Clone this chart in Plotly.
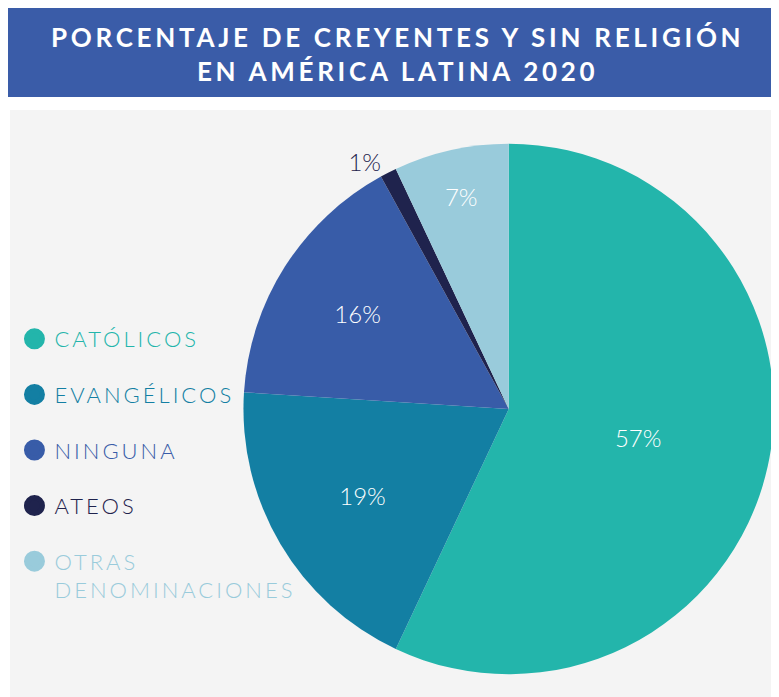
import plotly.graph_objects as go

categories = ["CATÓLICOS", "EVANGÉLICOS", "NINGUNA", "ATEOS", "OTRAS DENOMINACIONES"]
legend_labels = ["CATÓLICOS", "EVANGÉLICOS", "NINGUNA", "ATEOS", "OTRAS<br>DENOMINACIONES"]
values = [57, 19, 16, 1, 7]
colors = ["#23b5ab", "#137fa3", "#385ca8", "#1f234d", "#99cbdb"]
text_positions = ["inside", "inside", "inside", "outside", "inside"]
text_colors = ["white", "white", "white", "#1f234d", "white"]

title_lines = ["PORCENTAJE DE CREYENTES Y SIN RELIGIÓN", "EN AMÉRICA LATINA 2020"]

# page body has an 8px margin; figure fills the rest of the 779x697 window
W, H = 771, 689
FONT = "Lato"

fig = go.Figure()

fig.add_trace(go.Pie(
    labels=categories,
    values=values,
    marker=dict(colors=colors, line=dict(width=0)),
    sort=False,
    direction="clockwise",
    rotation=0,
    texttemplate="%{value}%",
    textposition=text_positions,
    insidetextorientation="horizontal",
    textfont=dict(family=FONT, size=24, color=text_colors, weight=300),
    showlegend=False,
    hoverinfo="label+percent",
    domain=dict(x=[237 / W, 1.0], y=[21 / H, 555 / H]),
))

for i, (lab, col) in enumerate(zip(legend_labels, colors)):
    fig.add_trace(go.Scatter(
        x=[None], y=[None], mode="markers",
        marker=dict(size=16, color=col, line=dict(color=col, width=5), symbol="circle"),
        name=f'<span style="color:{col};letter-spacing:3px">{lab}</span>',
        legendgroup=f"g{i}",
        showlegend=True,
    ))

title_html = "<br>".join(
    f'<span style="letter-spacing:3.7px">{t}</span>' for t in title_lines
)

fig.update_layout(
    width=W, height=H,
    margin=dict(l=0, r=0, t=0, b=0),
    paper_bgcolor="white",
    plot_bgcolor="rgba(0,0,0,0)",
    xaxis=dict(visible=False, domain=[0, 0.01]),
    yaxis=dict(visible=False, domain=[0, 0.01]),
    legend=dict(
        x=6.5 / W, y=1 - 310 / H, xanchor="left", yanchor="top",
        font=dict(family=FONT, size=22, weight=300),
        bgcolor="rgba(0,0,0,0)",
        tracegroupgap=24,
        valign="top",
        itemwidth=30,
        itemclick=False, itemdoubleclick=False,
    ),
    shapes=[
        dict(type="rect", xref="paper", yref="paper", layer="below",
             x0=2 / W, x1=1, y0=0, y1=(H - 102) / H,
             fillcolor="#f4f4f4", line=dict(width=0)),
        dict(type="rect", xref="paper", yref="paper", layer="below",
             x0=0, x1=1, y0=(H - 89) / H, y1=1,
             fillcolor="#3a5ca8", line=dict(width=0)),
    ],
    annotations=[
        dict(text=title_html, xref="paper", yref="paper",
             x=392 / W, y=(H - 46.5) / H, xanchor="center", yanchor="middle",
             showarrow=False, align="center",
             font=dict(family=FONT, size=26, color="white", weight=700)),
    ],
)

fig.write_html("out.html")
